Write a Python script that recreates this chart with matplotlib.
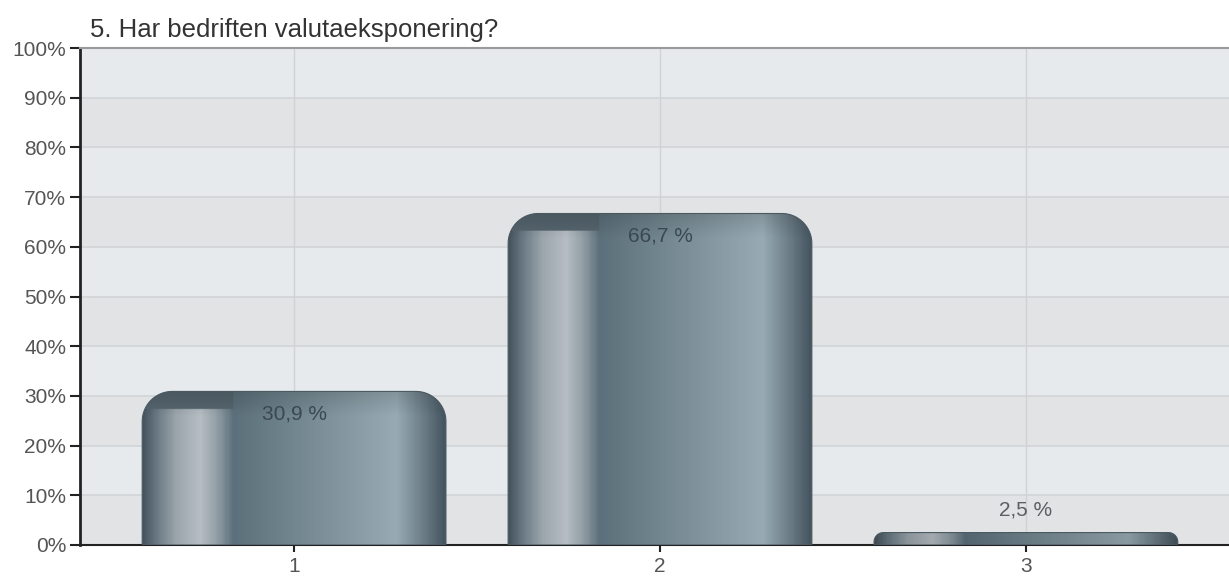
"""Bar chart of the answers to survey question 5 with shaded,
rounded-top bars on a banded grey background.
"""

import numpy as np
from matplotlib import pyplot as plt
from matplotlib.colors import LinearSegmentedColormap, to_rgb
from matplotlib.path import Path
from matplotlib.patches import PathPatch

plt.rcParams['font.family'] = ['Liberation Sans', 'DejaVu Sans']

title = "5. Har bedriften valutaeksponering?"
categories = [1, 2, 3]
category_labels = ["1", "2", "3"]
percentages = [30.9, 66.7, 2.5]
value_labels = ["30,9 %", "66,7 %", "2,5 %"]
y_ticks = [0, 10, 20, 30, 40, 50, 60, 70, 80, 90, 100]

# horizontal shading of a bar, left edge to right edge
shade_stops = [(0.00, '#45535d'), (0.05, '#6d7d87'), (0.11, '#9ba5ab'),
               (0.19, '#b6bec4'), (0.25, '#8e9aa2'), (0.30, '#5c707b'),
               (0.50, '#72868f'), (0.65, '#83969f'), (0.84, '#98abb5'),
               (0.93, '#6b7c86'), (1.00, '#45555f')]
bar_cmap = LinearSegmentedColormap.from_list('bar_shade', shade_stops)
cap_color = np.array(to_rgb('#56666f'))


def rounded_top_path(x0, x1, y0, y1, rx, ry, n=20):
    """ Closed path of a rectangle whose two top corners are rounded. """
    t = np.linspace(0, np.pi / 2, n)
    left = np.column_stack([x0 + rx - rx * np.cos(t), y1 - ry + ry * np.sin(t)])
    right = np.column_stack([x1 - rx + rx * np.sin(t), y1 - ry + ry * np.cos(t)])
    pts = np.vstack([[x0, y0], left, right, [x1, y0], [x0, y0]])
    codes = [Path.MOVETO] + [Path.LINETO] * (len(pts) - 2) + [Path.CLOSEPOLY]
    return Path(pts, codes)


fig = plt.figure(figsize=(12.29, 5.81), dpi=100)
ax = fig.add_axes([80 / 1229, 36 / 581, 1 - 80 / 1229, 497 / 581])
ax.set_xlim(0.415, 3.555)
ax.set_ylim(0, 100)

# alternating background bands
for i, (lo, hi) in enumerate(zip(y_ticks[:-1], y_ticks[1:])):
    ax.axhspan(lo, hi, color='#e7eaed' if i % 2 else '#e2e3e5', zorder=0, lw=0)
for y in y_ticks[1:-1]:
    ax.axhline(y, color='#d2d5d8', lw=1.2, zorder=1)
for x in categories:
    ax.axvline(x, color='#d0d2d4', lw=1.0, zorder=1)

bars = ax.bar(categories, percentages, width=0.83, alpha=0, zorder=2)

# pixels per data unit, used to keep the corner rounding circular
px_x = 1149 / (3.555 - 0.415)
px_y = 497 / 100.0

for bar, label in zip(bars, value_labels):
    x0, w, h = bar.get_x(), bar.get_width(), bar.get_height()
    h_px = h * px_y
    r_px = min(30.0, h_px * 0.75)
    path = rounded_top_path(x0, x0 + w, 0, h, r_px / px_x, r_px / px_y)

    nrows, ncols = 300, 300
    img = np.tile(bar_cmap(np.linspace(0, 1, ncols))[:, :3], (nrows, 1, 1))
    if h_px > 40:
        # darker cap at the top; the left highlight stops below it
        cap_rows = int(nrows * 18 / h_px)
        img[:cap_rows, :int(ncols * 0.30)] = cap_color
        fade = np.clip(np.arange(nrows) / (cap_rows * 1.4), 0, 1)
        img *= (0.86 + 0.14 * fade)[:, None, None]
    else:
        img *= 0.9
    im = ax.imshow(img, extent=[x0, x0 + w, 0, h], aspect='auto',
                   interpolation='bilinear', zorder=3)
    outline = PathPatch(path, facecolor='none', edgecolor='#4a5862', lw=0.8, zorder=4)
    ax.add_patch(outline)
    im.set_clip_path(outline)

    cx = x0 + w / 2
    if h > 10:
        ax.text(cx, h - 4.6, label, ha='center', va='center', fontsize=15,
                color='#3b4852', zorder=5)
    else:
        ax.text(cx, h + 4.6, label, ha='center', va='center', fontsize=15,
                color='#5a5f64', zorder=5)

ax.set_xticks(categories)
ax.set_xticklabels(category_labels)
ax.set_yticks(y_ticks)
ax.set_yticklabels(["{}%".format(v) for v in y_ticks])
ax.tick_params(axis='y', length=7, width=1.5, color='#222222', labelsize=15,
               labelcolor='#555555', pad=3)
ax.tick_params(axis='x', length=5, width=1.5, color='#222222', labelsize=15,
               labelcolor='#555555', pad=4)

ax.spines['left'].set_color('#222222')
ax.spines['left'].set_linewidth(2)
ax.spines['bottom'].set_color('#222222')
ax.spines['bottom'].set_linewidth(1.5)
ax.spines['top'].set_color('#9a9a9a')
ax.spines['top'].set_linewidth(1.5)
ax.spines['right'].set_visible(False)

fig.text(90 / 1229, 1 - 30 / 581, title, fontsize=18.5, color='#333333',
         ha='left', va='center')

fig.savefig("out.png", dpi=100)
